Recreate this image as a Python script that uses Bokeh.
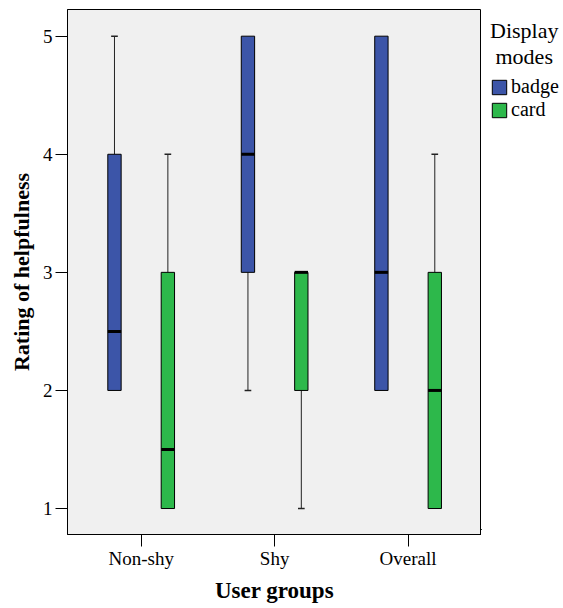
from bokeh.plotting import figure
from bokeh.layouts import row
from bokeh.models import FixedTicker, Legend, LegendItem, ColumnDataSource
from bokeh.embed import file_html
from bokeh.resources import INLINE

groups = ["Non-shy", "Shy", "Overall"]
modes = ["badge", "card"]
colors = ["#3C55A8", "#2DB84B"]

badge_low = [2, 2, 2]
badge_q1 = [2, 3, 2]
badge_med = [2.5, 4, 3]
badge_q3 = [4, 5, 5]
badge_high = [5, 5, 5]

card_low = [1, 1, 1]
card_q1 = [1, 2, 1]
card_med = [1.5, 3, 2]
card_q3 = [3, 3, 3]
card_high = [4, 3, 4]

y_ticks = [1, 2, 3, 4, 5]

FONT = "Liberation Serif"
offsets = [-0.2, 0.2]
box_w = 0.1
cap_w = 0.05

p = figure(frame_width=414, frame_height=525, output_backend="svg", toolbar_location=None,
           x_range=(0.448, 3.55), y_range=(0.78, 5.226),
           min_border_left=67, min_border_top=9, min_border_bottom=40, min_border_right=0)
p.background_fill_color = "#F0F0F0"
p.border_fill_color = "white"
p.outline_line_color = "black"
p.outline_line_width = 1
p.xgrid.visible = False
p.ygrid.visible = False

series = [
    (badge_low, badge_q1, badge_med, badge_q3, badge_high),
    (card_low, card_q1, card_med, card_q3, card_high),
]
sources = []

for k, (lo, q1, med, q3, hi) in enumerate(series):
    xs = [i + 1 + offsets[k] for i in range(len(groups))]
    wx0, wy0, wy1 = [], [], []
    cx, cy = [], []
    for x, a, b, c, d in zip(xs, lo, q1, q3, hi):
        if d > c:
            wx0.append(x); wy0.append(c); wy1.append(d)
            cx.append(x); cy.append(d)
        if a < b:
            wx0.append(x); wy0.append(a); wy1.append(b)
            cx.append(x); cy.append(a)
    p.segment(x0=wx0, y0=wy0, x1=wx0, y1=wy1, line_color="#222222", line_width=1)
    p.segment(x0=[x - cap_w / 2 for x in cx], y0=cy, x1=[x + cap_w / 2 for x in cx], y1=cy,
              line_color="#222222", line_width=1.5)
    src = ColumnDataSource(dict(x=xs, top=q3, bottom=q1))
    sources.append(src)
    p.vbar(x="x", top="top", bottom="bottom", width=box_w, source=src,
           fill_color=colors[k], line_color="black", line_width=1)
    p.segment(x0=[x - box_w / 2 for x in xs], y0=med, x1=[x + box_w / 2 for x in xs], y1=med,
              line_color="black", line_width=3)

p.xaxis.ticker = FixedTicker(ticks=[1, 2, 3])
p.xaxis.major_label_overrides = {1: groups[0], 2: groups[1], 3: groups[2]}
p.yaxis.ticker = FixedTicker(ticks=y_ticks)

for ax in (p.xaxis[0], p.yaxis[0]):
    ax.minor_tick_line_color = None
    ax.major_tick_out = 12
    ax.major_tick_in = 0
    ax.major_tick_line_color = "black"
    ax.axis_line_color = "black"
    ax.major_label_text_font = FONT
    ax.major_label_text_font_size = "19px"
    ax.major_label_text_color = "black"
    ax.axis_label_text_font = FONT
    ax.axis_label_text_font_style = "bold"
    ax.axis_label_text_color = "black"

p.xaxis.major_label_standoff = 1
p.yaxis.major_label_standoff = 3
p.xaxis.axis_label = "User groups"
p.yaxis.axis_label = "Rating of helpfulness"
p.xaxis.axis_label_text_font_size = "23px"
p.yaxis.axis_label_text_font_size = "22px"
p.xaxis.axis_label_standoff = 6
p.yaxis.axis_label_standoff = 6

# legend panel (the box glyphs are reused here, kept far outside the visible range)
lf = figure(width=82, height=600, output_backend="svg", toolbar_location=None,
            x_range=(100, 101), y_range=(100, 101), x_axis_type=None, y_axis_type=None,
            min_border_left=0, min_border_right=0, min_border_top=5, min_border_bottom=0)
lf.outline_line_color = None
lf.xgrid.visible = False
lf.ygrid.visible = False
items = []
for k in range(len(modes)):
    r = lf.vbar(x="x", top="top", bottom="bottom", width=box_w, source=sources[k],
                fill_color=colors[k], line_color="black", line_width=1)
    items.append(LegendItem(label=modes[k], renderers=[r]))

legend = Legend(items=items, title="Display\n\u00a0modes", location="top_left")
legend.title_text_font = FONT
legend.title_text_font_size = "22px"
legend.title_text_font_style = "normal"
legend.title_text_color = "black"
legend.title_standoff = 5
legend.label_text_font = FONT
legend.label_text_font_size = "20px"
legend.label_text_color = "black"
legend.glyph_width = 18
legend.glyph_height = 18
legend.label_standoff = 3
legend.spacing = 0
legend.padding = 1
legend.margin = 9
legend.border_line_color = None
legend.background_fill_alpha = 0
lf.add_layout(legend)

layout = row(p, lf)
open("out.html", "w").write(file_html(layout, INLINE))
